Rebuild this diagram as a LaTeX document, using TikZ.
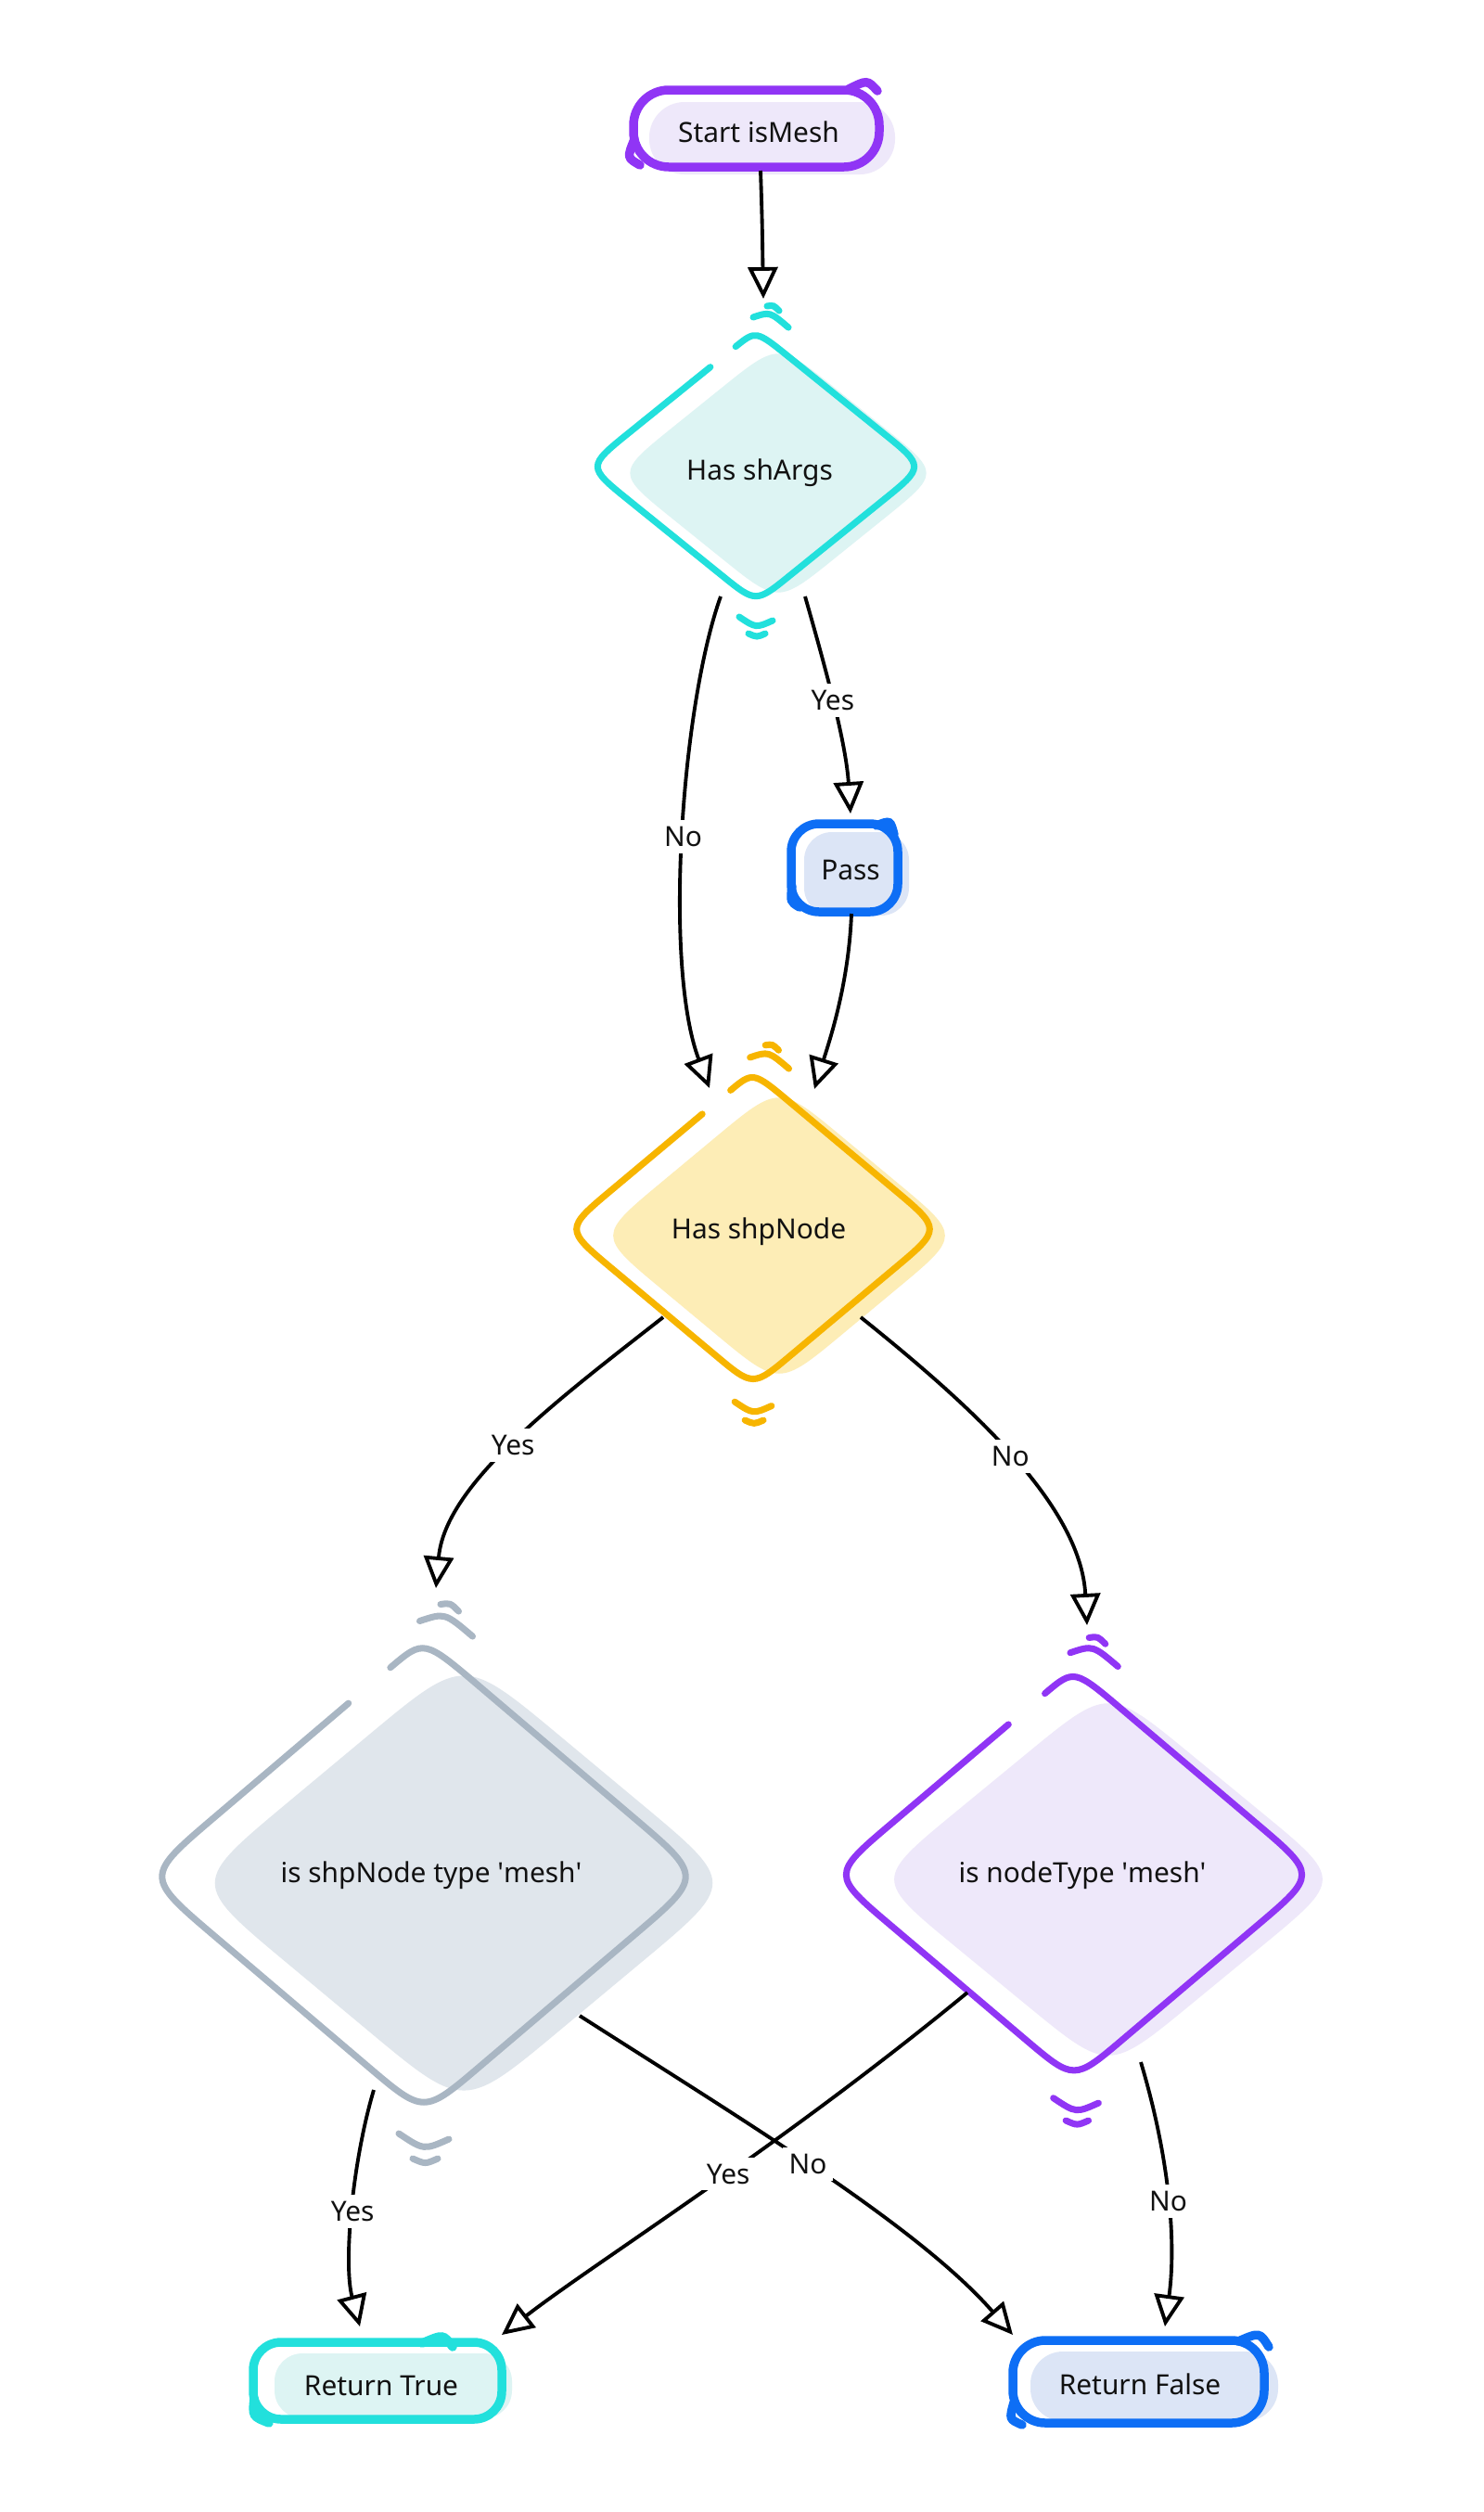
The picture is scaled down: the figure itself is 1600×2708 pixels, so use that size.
\documentclass[tikz,border=0pt]{standalone}
\usepackage{fontspec}
\setmainfont{Noto Sans}
\usetikzlibrary{arrows.meta,calc}
\definecolor{cPurS}{HTML}{9035F5}
\definecolor{cPurF}{HTML}{EEE8FA}
\definecolor{cCyS}{HTML}{22E0DC}
\definecolor{cCyF}{HTML}{DDF4F3}
\definecolor{cBlS}{HTML}{0D6EF5}
\definecolor{cBlF}{HTML}{DCE5F6}
\definecolor{cYeS}{HTML}{F7B500}
\definecolor{cYeF}{HTML}{FDEDB6}
\definecolor{cGrS}{HTML}{A9B6C3}
\definecolor{cGrF}{HTML}{E0E6EC}
\definecolor{cTxt}{HTML}{111111}
\newcommand\DiaSet[4]{%
 \coordinate (qT) at ({#1},{#2-#4});
 \coordinate (qR) at ({#1+#3},{#2});
 \coordinate (qB) at ({#1},{#2+#4});
 \coordinate (qL) at ({#1-#3},{#2});}
\newcommand\DiaFill[5]{%
 \DiaSet{#1}{#2}{#3}{#4}
 \fill[#5] ($(qT)!0.35!(qR)$) -- ($(qR)!0.35!(qT)$) .. controls (qR) .. ($(qR)!0.35!(qB)$)
   -- ($(qB)!0.35!(qR)$) .. controls (qB) .. ($(qB)!0.35!(qL)$)
   -- ($(qL)!0.35!(qB)$) .. controls (qL) .. ($(qL)!0.35!(qT)$)
   -- ($(qT)!0.35!(qL)$) .. controls (qT) .. ($(qT)!0.35!(qR)$) -- cycle;}
\newcommand\DiaLine[5]{%
 \DiaSet{#1}{#2}{#3}{#4}
 \draw[#5] ($(qT)!0.12!(qL)$) .. controls (qT) .. ($(qT)!0.2!(qR)$)
   -- ($(qR)!0.25!(qT)$) .. controls (qR) .. ($(qR)!0.25!(qB)$)
   -- ($(qB)!0.2!(qR)$) .. controls (qB) .. ($(qB)!0.2!(qL)$)
   -- ($(qL)!0.25!(qB)$) .. controls (qL) .. ($(qL)!0.25!(qT)$)
   -- ($(qT)!0.27!(qL)$);}
% decorative sketch arcs: #1 top x, #2 top y, #3 bottom x, #4 bottom y, #5 scale, #6 style
\newcommand\DiaDeco[6]{%
 \begin{scope}[#6]
 \draw ({#1-3*#5},{#2-21*#5}) .. controls ({#1+15*#5},{#2-27*#5}) .. ({#1+35*#5},{#2-10*#5});
 \draw ({#1+12*#5},{#2-33*#5}) .. controls ({#1+19*#5},{#2-34*#5}) .. ({#1+25*#5},{#2-28*#5});
 \draw ({#3-18*#5},{#4+22*#5}) .. controls ({#3},{#4+34*#5}) .. ({#3+18*#5},{#4+26*#5});
 \draw ({#3-8*#5},{#4+40*#5}) .. controls ({#3+1*#5},{#4+44*#5}) .. ({#3+10*#5},{#4+40*#5});
 \end{scope}}
\begin{document}
\begin{tikzpicture}[x=0.01cm,y=-0.01cm,
  txt/.style={font=\fontsize{8.5}{10}\selectfont, text=cTxt, inner sep=1pt},
  lbl/.style={font=\fontsize{8.5}{10}\selectfont, text=cTxt, fill=white, inner sep=2pt},
  conn/.style={line width=1.1pt, draw=black, -{Triangle[length=0.34cm,width=0.32cm,fill=white,line width=1.1pt]}},
  dline/.style={line width=2pt, line cap=round},
  bline/.style={line width=2.7pt, line cap=round}]
\useasboundingbox (0,0) rectangle (1600,2708);
\fill[white] (0,0) rectangle (1600,2708);

% ---- Start isMesh
\fill[cPurF, rounded corners=0.38cm] (700,110) rectangle (965,188);
\draw[bline, cPurS, rounded corners=0.38cm] (683,97) rectangle (948,180);
\draw[bline, cPurS] (915,96) .. controls (935,86) .. (946,98);
\draw[bline, cPurS] (684,150) .. controls (676,170) .. (690,178);
\node[txt] (start) at (818,142) {Start isMesh};

% ---- Has shArgs
\DiaFill{839}{510}{175}{141}{cCyF}
\DiaLine{815}{503}{182}{147}{dline, cCyS}
\DiaDeco{815}{363}{815}{643}{1}{dline, cCyS}
\node[txt] (hsa) at (819,510) {Has shArgs};

% ---- Pass
\fill[cBlF, rounded corners=0.3cm] (867,897) rectangle (980,987);
\draw[bline, cBlS, rounded corners=0.3cm] (853,888) rectangle (968,983);
\draw[bline, cBlS] (945,890) .. controls (960,884) .. (964,900);
\draw[bline, cBlS] (854,955) .. controls (852,972) .. (862,978);
\node[txt] (pass) at (917,938) {Pass};

% ---- Has shpNode
\DiaFill{840}{1332}{196}{163}{cYeF}
\DiaLine{812}{1325}{203}{170}{dline, cYeS}
\DiaDeco{812}{1163}{812}{1487}{1.1}{dline, cYeS}
\node[txt] (hsp) at (818,1328) {Has shpNode};

% ---- is shpNode type 'mesh'
\DiaFill{500}{2030}{294}{245}{cGrF}
\DiaLine{457}{2023}{301}{256}{dline, cGrS}
\DiaDeco{457}{1779}{457}{2267}{1.5}{dline, cGrS}
\node[txt] (isn) at (465,2022) {is shpNode type \textquotesingle mesh\textquotesingle};

% ---- is nodeType 'mesh'
\DiaFill{1195}{2026}{253}{208}{cPurF}
\DiaLine{1158}{2021}{262}{222}{dline, cPurS}
\DiaDeco{1158}{1810}{1160}{2232}{1.35}{dline, cPurS}
\node[txt] (int) at (1167,2022) {is nodeType \textquotesingle mesh\textquotesingle};

% ---- Return True
\fill[cCyF, rounded corners=0.3cm] (296,2537) rectangle (552,2607);
\draw[bline, cCyS, rounded corners=0.3cm] (273,2525) rectangle (541,2608);
\draw[bline, cCyS] (455,2526) .. controls (478,2516) .. (488,2530);
\draw[bline, cCyS] (274,2585) .. controls (272,2605) .. (290,2612);
\node[txt] (rt) at (411,2572) {Return True};

% ---- Return False
\fill[cBlF, rounded corners=0.35cm] (1111,2535) rectangle (1378,2610);
\draw[bline, cBlS, rounded corners=0.35cm] (1092,2523) rectangle (1363,2612);
\draw[bline, cBlS] (1335,2524) .. controls (1358,2514) .. (1368,2530);
\draw[bline, cBlS] (1093,2590) .. controls (1088,2608) .. (1102,2614);
\node[txt] (rf) at (1229,2570) {Return False};

% ---- connectors
\draw[conn] ($(start)+(2,42)$) .. controls ($(start)+(4,100)$) and ($(hsa)+(3,-250)$) .. ($(hsa)+(4,-188)$);
\draw[conn] ($(hsa)+(-42,133)$) .. controls (735,760) and (715,1040) .. ($(hsp)+(-53,-155)$)
  node[lbl, pos=0.5] {No};
\draw[conn] ($(hsa)+(49,133)$) .. controls (890,720) and (912,800) .. ($(pass)+(0,-61)$)
  node[lbl, pos=0.48] {Yes};
\draw[conn] ($(pass)+(1,47)$) .. controls (915,1060) and (895,1120) .. ($(hsp)+(60,-154)$);
\draw[conn] ($(hsp)+(-103,92)$) .. controls (600,1510) and (480,1600) .. ($(isn)+(5,-310)$)
  node[lbl, pos=0.5] {Yes};
\draw[conn] ($(hsp)+(110,92)$) .. controls (1040,1510) and (1165,1620) .. ($(int)+(5,-270)$)
  node[lbl, pos=0.5] {No};
\draw[conn] ($(isn)+(-62,231)$) .. controls (380,2330) and (370,2440) .. ($(rt)+(-23,-64)$)
  node[lbl, pos=0.5] {Yes};
\draw[conn] ($(isn)+(160,151)$) .. controls (800,2285) and (990,2400) .. ($(rf)+(-137,-53)$);
\draw[conn] ($(int)+(-124,126)$) .. controls (840,2315) and (640,2440) .. ($(rt)+(130,-55)$);
\path ($(isn)+(160,151)$) .. controls (800,2285) and (990,2400) .. ($(rf)+(-137,-53)$)
  node[lbl, pos=0.47] {No};
\path ($(int)+(-124,126)$) .. controls (840,2315) and (640,2440) .. ($(rt)+(130,-55)$)
  node[lbl, pos=0.44] {Yes};
\draw[conn] ($(int)+(63,201)$) .. controls (1262,2330) and (1268,2420) .. ($(rf)+(27,-62)$)
  node[lbl, pos=0.5] {No};
\end{tikzpicture}
\end{document}
